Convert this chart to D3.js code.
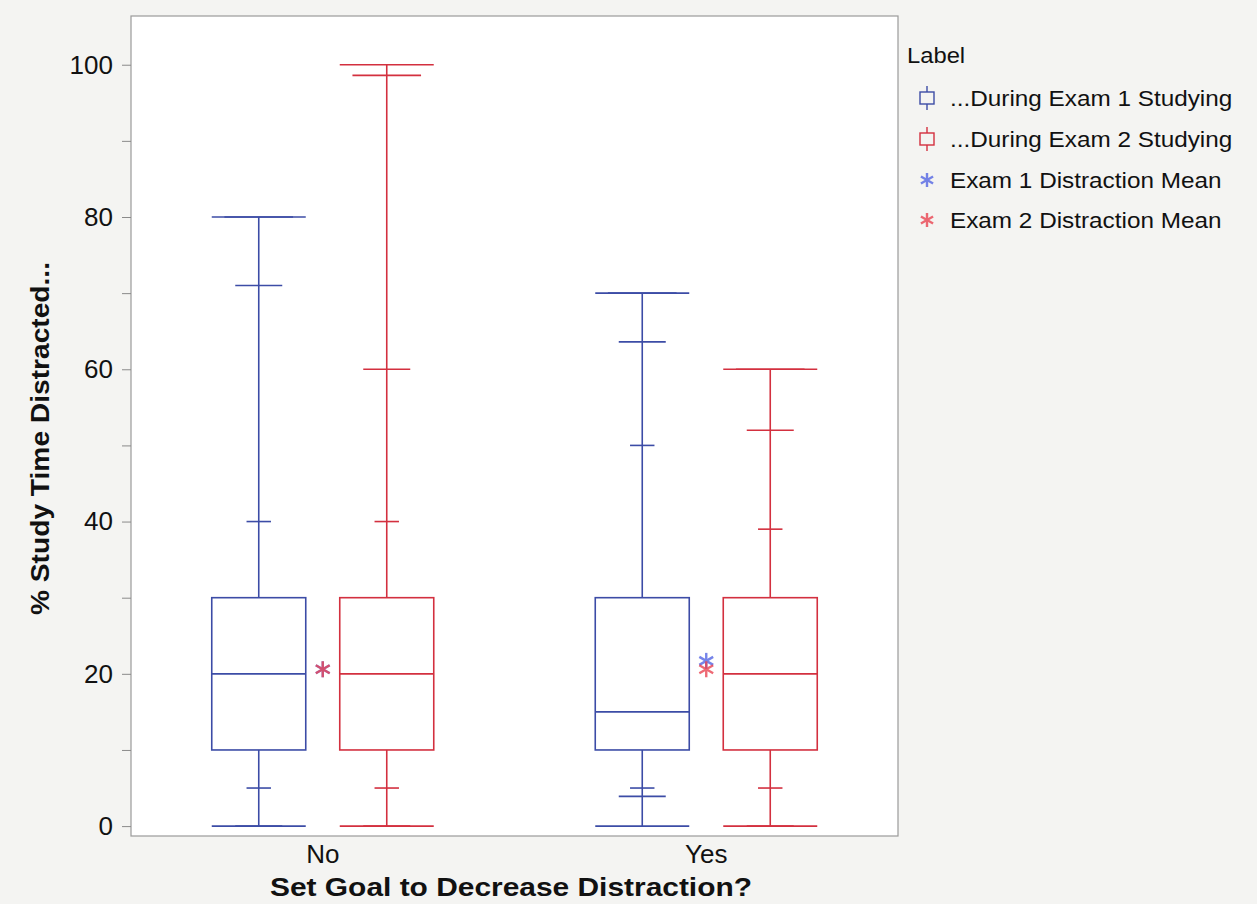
<!DOCTYPE html>
<html><head><meta charset="utf-8">
<script src="https://cdn.jsdelivr.net/npm/d3@7"></script>
<style>body{margin:0;background:#f4f4f2;} svg{display:block}</style>
</head><body><svg id="c" width="1257" height="904"></svg>
<script>
const groups = ["No", "Yes"];
const seriesNames = ["...During Exam 1 Studying", "...During Exam 2 Studying"];
const meanNames = ["Exam 1 Distraction Mean", "Exam 2 Distraction Mean"];
// values indexed [series][group]
const minV  = [[0, 0], [0, 0]];
const p2_5  = [[0, 3.9], [0, 0]];
const p10   = [[5, 5], [5, 5]];
const q1    = [[10, 10], [10, 10]];
const median= [[20, 15], [20, 20]];
const q3    = [[30, 30], [30, 30]];
const p90   = [[40, 50], [40, 39]];
const p97_5 = [[71, 63.6], [60, 52]];
const p99_5 = [[80, 70], [98.6, 60]];
const maxV  = [[80, 70], [100, 60]];
const means = [[20.6, 21.7], [20.6, 20.6]];
const yTicks = [0, 20, 40, 60, 80, 100];
const yMinor = [10, 30, 50, 70, 90];

const boxColors = ["#3c4ca6", "#d3303f"];
const starColors = ["#5466e4", "#ea4452"];
const font = "'Liberation Sans', Arial, Helvetica, sans-serif";

const svg = d3.select("#c");
const L = 131, R = 898, T = 16, B = 836;

const x = d3.scaleBand().domain(groups).range([L, R]);
const xs = d3.scalePoint().domain(seriesNames).range([-64, 64]);
const y = d3.scaleLinear().domain([-1.3, 106.4]).range([B, T]);
const boxW = 94;

svg.append("rect").attr("x", 0).attr("y", 0).attr("width", 1257).attr("height", 904).attr("fill", "#f4f4f2");
svg.append("rect").attr("x", L).attr("y", T).attr("width", R - L).attr("height", B - T)
  .attr("fill", "#fff").attr("stroke", "#9a9a9a").attr("stroke-width", 1.2);

// y axis
const yAxis = d3.axisLeft(y).tickValues(yTicks).tickSize(9).tickPadding(9);
const gy = svg.append("g").attr("transform", `translate(${L},0)`).call(yAxis);
gy.select(".domain").remove();
gy.selectAll(".tick line").attr("stroke", "#8a8a8a");
gy.selectAll(".tick text").attr("font-family", font).attr("font-size", 26).attr("fill", "#111");
const gyMinor = svg.append("g").attr("transform", `translate(${L},0)`)
  .call(d3.axisLeft(y).tickValues(yMinor).tickSize(9).tickFormat(""));
gyMinor.select(".domain").remove();
gyMinor.selectAll(".tick line").attr("stroke", "#8a8a8a");

// x axis labels
const gx = svg.append("g").attr("transform", `translate(0,${B})`)
  .call(d3.axisBottom(x).tickSize(0).tickPadding(9));
gx.select(".domain").remove();
gx.selectAll(".tick text").attr("font-family", font).attr("font-size", 26).attr("fill", "#111");

// titles
svg.append("text").attr("x", 511).attr("y", 896).attr("text-anchor", "middle")
  .attr("font-family", font).attr("font-weight", "bold").attr("font-size", 26).attr("fill", "#111")
  .attr("textLength", 482).attr("lengthAdjust", "spacingAndGlyphs")
  .text("Set Goal to Decrease Distraction?");
svg.append("text").attr("transform", `translate(49,${(262 + 615) / 2}) rotate(-90)`).attr("text-anchor", "middle")
  .attr("font-family", font).attr("font-weight", "bold").attr("font-size", 26).attr("fill", "#111")
  .attr("textLength", 353).attr("lengthAdjust", "spacingAndGlyphs")
  .text("% Study Time Distracted...");

// boxes
const plot = svg.append("g");
seriesNames.forEach((s, si) => {
  groups.forEach((g, gi) => {
    const cx = x(g) + x.bandwidth() / 2 + xs(s);
    const c = boxColors[si];
    const gg = plot.append("g").attr("stroke", c).attr("stroke-width", 1.6).attr("fill", "none");
    const hl = (v, w) => gg.append("line").attr("x1", cx - w / 2).attr("x2", cx + w / 2).attr("y1", y(v)).attr("y2", y(v));
    gg.append("line").attr("x1", cx).attr("x2", cx).attr("y1", y(q3[si][gi])).attr("y2", y(maxV[si][gi]));
    gg.append("line").attr("x1", cx).attr("x2", cx).attr("y1", y(q1[si][gi])).attr("y2", y(minV[si][gi]));
    gg.append("rect").attr("x", cx - boxW / 2).attr("width", boxW)
      .attr("y", y(q3[si][gi])).attr("height", y(q1[si][gi]) - y(q3[si][gi]));
    hl(median[si][gi], boxW);
    hl(maxV[si][gi], boxW);
    hl(minV[si][gi], boxW);
    hl(p99_5[si][gi], boxW * 0.73);
    hl(p97_5[si][gi], boxW * 0.5);
    hl(p90[si][gi], boxW * 0.26);
    hl(p10[si][gi], boxW * 0.26);
    hl(p2_5[si][gi], boxW * 0.5);
  });
});

// star marker
function star(sel, cx, cy, r, color) {
  const g = sel.append("g").attr("stroke", color).attr("stroke-width", 2.4).attr("opacity", 0.8);
  [90, 30, 150].forEach(a => {
    const rad = a * Math.PI / 180;
    g.append("line").attr("x1", cx - r * Math.cos(rad)).attr("y1", cy - r * Math.sin(rad))
      .attr("x2", cx + r * Math.cos(rad)).attr("y2", cy + r * Math.sin(rad));
  });
}
meanNames.forEach((m, si) => {
  groups.forEach((g, gi) => {
    star(plot, x(g) + x.bandwidth() / 2, y(means[si][gi]), 8, starColors[si]);
  });
});

// legend
const lg = svg.append("g").attr("font-family", font).attr("fill", "#111");
const lab = lg.append("text").attr("x", 907).attr("y", 63).attr("font-size", 22).text("Label");
lab.attr("textLength", lab.node().getComputedTextLength() * 1.08).attr("lengthAdjust", "spacingAndGlyphs");
const rowY = [98, 139, 180, 220];
function legText(cy, t) {
  const el = lg.append("text").attr("x", 950).attr("y", cy + 8).attr("font-size", 22.5).text(t);
  const w = el.node().getComputedTextLength();
  el.attr("textLength", w * 1.08).attr("lengthAdjust", "spacingAndGlyphs");
}
seriesNames.forEach((s, i) => {
  const cy = rowY[i], cx = 927;
  const g = lg.append("g").attr("stroke", boxColors[i]).attr("stroke-width", 1.4).attr("fill", "none");
  g.append("rect").attr("x", cx - 7).attr("y", cy - 6).attr("width", 14).attr("height", 12);
  g.append("line").attr("x1", cx).attr("x2", cx).attr("y1", cy - 12).attr("y2", cy - 6);
  g.append("line").attr("x1", cx).attr("x2", cx).attr("y1", cy + 6).attr("y2", cy + 12);
  legText(cy, s);
});
meanNames.forEach((m, i) => {
  const cy = rowY[i + 2];
  star(lg, 927, cy, 7, starColors[i]);
  legText(cy, m);
});
</script></body></html>
